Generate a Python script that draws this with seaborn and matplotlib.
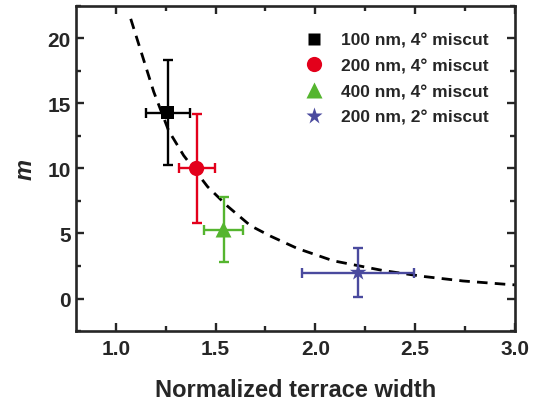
import numpy as np
import pandas as pd
import seaborn as sns
import matplotlib.pyplot as plt
from matplotlib.ticker import MultipleLocator

sns.set_style("ticks")
plt.rcParams['font.family'] = ['Liberation Sans', 'DejaVu Sans']
plt.rcParams['font.weight'] = 'bold'

# Data points
labels = ['100 nm, 4° miscut', '200 nm, 4° miscut', '400 nm, 4° miscut', '200 nm, 2° miscut']
width = [1.26, 1.405, 1.54, 2.215]
width_err = [0.11, 0.09, 0.10, 0.28]
m_val = [14.3, 10.0, 5.3, 2.0]
m_err = [4.0, 4.2, 2.5, 1.9]
colors = ['#000000', '#e3001b', '#55b52f', '#4a4a9e']
markers = ['s', 'o', '^', '*']
sizes = [80, 120, 130, 160]

# Dashed fit curve
fit_x = [1.075, 1.19, 1.265, 1.34, 1.46, 1.56, 1.675, 1.775, 1.91, 2.09, 2.34, 2.54, 2.74, 2.95, 3.0]
fit_y = [21.5, 15.9, 12.9, 11.0, 8.6, 7.1, 5.6, 4.8, 3.85, 2.9, 2.15, 1.7, 1.35, 1.1, 1.05]

df = pd.DataFrame({'width': width, 'm': m_val, 'sample': labels})
fit = pd.DataFrame({'x': fit_x, 'y': fit_y})

fig = plt.figure(figsize=(5.38, 4.02), dpi=100)
ax = fig.add_axes([0.141, 0.174, 0.816, 0.809])

sns.lineplot(data=fit, x='x', y='y', ax=ax, color='black', lw=2.0,
             linestyle=(0, (3.8, 2.6)), zorder=1)

for i in range(len(labels)):
    ax.errorbar(width[i], m_val[i], xerr=width_err[i], yerr=m_err[i],
                fmt='none', ecolor=colors[i], elinewidth=1.7, capsize=3.5,
                capthick=1.7, zorder=2)

sns.scatterplot(data=df, x='width', y='m', hue='sample', style='sample',
                palette=dict(zip(labels, colors)),
                markers=dict(zip(labels, markers)),
                size='sample', sizes=dict(zip(labels, sizes)),
                edgecolor='none', ax=ax, zorder=3, legend='full')

ax.set_xlim(0.8, 3.0)
ax.set_ylim(-2.5, 22.5)
ax.xaxis.set_major_locator(MultipleLocator(0.5))
ax.xaxis.set_minor_locator(MultipleLocator(0.25))
ax.yaxis.set_major_locator(MultipleLocator(5))
ax.yaxis.set_minor_locator(MultipleLocator(2.5))
ax.tick_params(which='both', direction='in', top=True, right=True, width=1.7,
               labelsize=15)
ax.tick_params(axis='x', which='major', pad=6)
ax.tick_params(which='major', length=6)
ax.tick_params(which='minor', length=3.5)
for s in ax.spines.values():
    s.set_linewidth(1.9)
    s.set_visible(True)

ax.set_xlabel('Normalized terrace width', fontsize=17, fontweight='bold', labelpad=14)
ax.set_ylabel('m', fontsize=17, fontweight='bold', style='italic', labelpad=8)

leg = ax.legend(loc='upper right', frameon=False, fontsize=12.5,
                handletextpad=0.5, labelspacing=0.6,
                bbox_to_anchor=(0.975, 0.965), markerscale=1.0)
for t in leg.get_texts():
    t.set_fontweight('bold')

fig.savefig('out.png', dpi=100)
